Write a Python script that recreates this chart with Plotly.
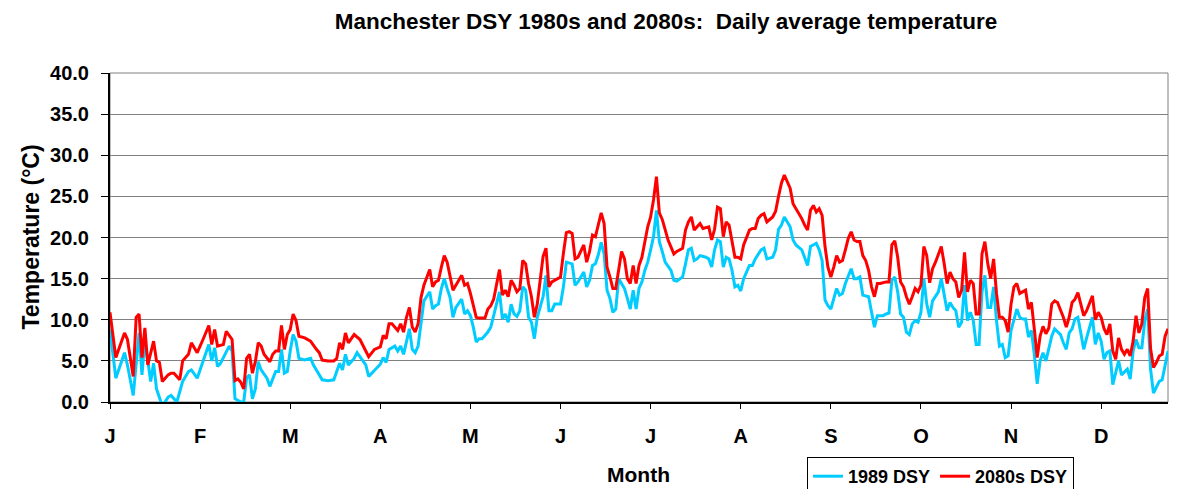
import plotly.graph_objects as go

# ---- data (day of year index, daily average temperature in °C) ----
month_labels = ["J", "F", "M", "A", "M", "J", "J", "A", "S", "O", "N", "D"]
month_tick_days = [0, 31, 62, 93, 124, 155, 186, 217, 248, 279, 310, 341]

days_1989 = [0, 2, 5, 6, 8, 10, 11, 12, 14, 15, 16, 18, 20, 21, 23, 25, 27, 28, 30, 32, 34, 35, 36, 37, 38, 41, 42, 43, 44, 45, 46, 47, 48, 49, 50, 51, 52, 54, 55, 56, 57, 58, 59, 60, 61, 62, 63, 64, 65, 67, 69, 70, 72, 73, 75, 77, 78, 79, 80, 81, 82, 84, 85, 88, 89, 91, 93, 94, 95, 96, 98, 99, 100, 101, 102, 103, 104, 105, 106, 107, 108, 110, 111, 112, 113, 114, 115, 116, 117, 118, 119, 121, 122, 123, 124, 125, 126, 127, 128, 130, 131, 132, 134, 135, 136, 137, 138, 139, 140, 141, 142, 143, 144, 145, 146, 147, 149, 150, 151, 152, 153, 155, 156, 157, 159, 160, 161, 163, 164, 165, 166, 167, 168, 169, 170, 171, 172, 173, 174, 175, 177, 178, 179, 180, 181, 182, 183, 184, 185, 186, 187, 188, 189, 190, 191, 193, 194, 195, 197, 198, 199, 200, 201, 202, 203, 205, 206, 207, 208, 209, 210, 211, 212, 213, 214, 215, 216, 217, 218, 220, 221, 222, 224, 225, 226, 228, 229, 230, 231, 232, 233, 234, 235, 236, 238, 239, 240, 241, 243, 244, 245, 246, 247, 248, 249, 250, 251, 252, 253, 255, 256, 257, 258, 259, 261, 262, 263, 264, 266, 267, 268, 269, 270, 271, 272, 273, 274, 275, 276, 277, 278, 279, 280, 281, 282, 283, 285, 286, 287, 288, 289, 290, 291, 292, 293, 294, 295, 296, 297, 298, 299, 300, 301, 302, 303, 304, 305, 306, 307, 308, 309, 310, 312, 313, 314, 315, 316, 317, 318, 319, 320, 321, 322, 323, 324, 325, 327, 328, 329, 330, 331, 332, 333, 334, 335, 336, 337, 338, 339, 340, 341, 342, 343, 344, 345, 346, 347, 348, 349, 350, 351, 352, 353, 354, 355, 356, 357, 358, 359, 360, 361, 362, 363, 364]
temp_1989 = [8.8, 2.9, 6.0, 4.5, 0.8, 8.4, 3.3, 7.6, 2.5, 4.7, 1.6, -0.5, 0.6, 0.8, 0.0, 2.5, 3.7, 3.9, 2.9, 5.0, 7.0, 5.0, 6.6, 4.3, 4.7, 6.8, 6.2, 0.4, 0.2, 0.0, 0.0, 2.9, 3.3, 0.4, 1.6, 4.9, 3.9, 2.9, 1.9, 2.9, 3.7, 3.7, 6.4, 3.5, 3.7, 6.2, 8.2, 7.4, 5.3, 5.1, 5.3, 4.5, 3.3, 2.7, 2.6, 2.7, 3.7, 4.7, 3.9, 5.8, 4.5, 5.3, 6.0, 4.5, 3.1, 3.8, 4.6, 5.4, 4.8, 6.4, 6.8, 6.2, 6.8, 5.8, 7.5, 8.9, 6.4, 6.0, 6.8, 9.9, 12.3, 13.4, 11.3, 11.7, 11.9, 13.8, 15.0, 13.8, 12.7, 10.3, 11.5, 12.5, 10.7, 11.1, 10.5, 9.1, 7.3, 7.7, 7.7, 8.5, 9.1, 10.5, 13.4, 10.1, 10.7, 9.7, 11.9, 10.7, 10.4, 11.1, 14.0, 13.6, 10.3, 9.7, 7.7, 10.3, 12.8, 15.4, 11.1, 11.1, 11.9, 11.9, 14.0, 17.0, 16.8, 14.2, 14.6, 15.8, 14.0, 14.8, 16.6, 16.8, 17.9, 19.4, 18.0, 13.6, 12.6, 10.9, 11.3, 15.0, 13.8, 12.6, 11.3, 13.6, 11.3, 13.8, 14.6, 16.0, 17.0, 18.5, 20.1, 23.3, 19.5, 18.3, 17.0, 16.0, 14.8, 14.7, 15.2, 16.8, 18.5, 18.7, 17.2, 17.4, 17.8, 17.6, 17.4, 16.4, 18.5, 19.7, 19.5, 16.4, 17.6, 17.4, 16.0, 14.0, 14.2, 13.5, 15.0, 16.6, 16.6, 17.4, 18.5, 18.7, 17.4, 17.6, 18.5, 21.0, 21.5, 22.5, 21.9, 21.3, 19.7, 19.1, 18.5, 17.6, 16.6, 18.9, 19.3, 18.5, 17.2, 12.4, 11.7, 11.3, 12.4, 13.8, 13.0, 13.2, 14.4, 16.2, 15.0, 15.0, 15.2, 13.0, 12.8, 10.7, 9.1, 10.5, 10.5, 10.7, 10.8, 14.8, 15.2, 13.4, 10.7, 10.3, 8.5, 8.2, 9.5, 9.9, 9.7, 10.9, 15.0, 11.9, 10.3, 12.3, 13.4, 15.0, 13.0, 11.1, 12.1, 11.5, 11.1, 9.1, 9.7, 14.2, 9.9, 10.9, 9.9, 7.0, 7.0, 13.4, 15.4, 11.5, 11.5, 14.0, 9.9, 6.8, 7.0, 5.4, 5.6, 8.7, 11.3, 10.3, 10.1, 10.1, 7.9, 8.7, 5.8, 2.2, 5.0, 6.0, 5.0, 6.5, 8.0, 8.9, 8.2, 7.2, 6.4, 8.4, 8.9, 10.1, 10.3, 8.4, 6.4, 7.8, 9.1, 10.3, 7.0, 8.4, 7.4, 5.2, 6.0, 6.2, 2.1, 3.6, 5.0, 3.3, 3.6, 4.0, 2.8, 6.2, 7.6, 6.6, 6.6, 9.9, 11.3, 4.0, 1.1, 1.9, 2.5, 2.7, 4.6, 6.2]

days_2080s = [0, 2, 5, 6, 8, 9, 10, 11, 12, 13, 15, 16, 17, 18, 20, 21, 22, 24, 25, 27, 28, 30, 32, 34, 35, 36, 37, 39, 40, 42, 43, 44, 45, 46, 47, 48, 49, 50, 51, 52, 53, 55, 56, 57, 58, 59, 60, 61, 62, 63, 64, 65, 67, 69, 71, 72, 73, 75, 77, 78, 79, 80, 81, 82, 84, 86, 88, 89, 91, 93, 94, 95, 96, 97, 99, 100, 101, 102, 103, 104, 105, 106, 107, 108, 110, 111, 112, 113, 114, 115, 116, 117, 118, 119, 121, 122, 123, 124, 125, 126, 127, 129, 130, 131, 132, 133, 134, 135, 136, 137, 138, 139, 140, 141, 142, 143, 144, 145, 146, 147, 148, 149, 150, 151, 152, 154, 155, 156, 157, 158, 159, 160, 161, 163, 164, 165, 166, 167, 168, 169, 170, 171, 172, 173, 174, 175, 176, 177, 178, 179, 180, 181, 182, 183, 184, 185, 186, 187, 188, 189, 190, 191, 192, 194, 195, 197, 198, 199, 200, 201, 202, 203, 204, 206, 207, 208, 209, 210, 211, 212, 213, 214, 215, 216, 217, 218, 220, 221, 222, 223, 224, 225, 226, 228, 229, 230, 231, 232, 233, 234, 235, 236, 237, 238, 239, 240, 241, 242, 243, 244, 245, 246, 247, 248, 249, 250, 251, 252, 253, 254, 255, 256, 257, 258, 259, 260, 261, 262, 263, 264, 265, 267, 268, 269, 270, 271, 272, 273, 274, 275, 276, 277, 278, 279, 280, 281, 282, 283, 284, 285, 286, 287, 288, 289, 290, 291, 292, 293, 294, 295, 296, 297, 298, 299, 300, 301, 302, 303, 304, 305, 306, 307, 308, 309, 310, 311, 312, 313, 314, 315, 316, 317, 318, 319, 320, 321, 322, 323, 324, 325, 326, 327, 328, 329, 330, 331, 332, 333, 334, 335, 336, 337, 338, 339, 340, 341, 342, 343, 344, 345, 346, 347, 348, 349, 350, 351, 352, 353, 354, 355, 356, 357, 358, 359, 360, 361, 362, 363, 364]
temp_2080s = [10.9, 5.4, 8.4, 7.6, 3.1, 10.3, 10.7, 5.4, 9.0, 4.5, 7.4, 5.0, 4.8, 2.5, 3.3, 3.5, 3.5, 2.7, 5.0, 5.8, 7.2, 6.0, 7.6, 9.3, 7.0, 8.8, 6.8, 7.0, 8.6, 7.6, 2.6, 2.8, 2.4, 1.6, 5.3, 5.8, 3.5, 4.9, 7.2, 6.8, 5.8, 4.9, 5.8, 6.2, 6.2, 9.3, 6.4, 8.2, 8.8, 10.7, 9.9, 8.0, 7.8, 7.4, 6.4, 6.0, 5.1, 5.0, 5.0, 5.3, 7.2, 6.4, 8.4, 7.2, 8.2, 7.6, 6.2, 5.5, 6.4, 6.7, 8.1, 7.7, 9.5, 9.5, 8.7, 9.5, 8.5, 10.3, 11.5, 9.1, 8.5, 9.5, 12.7, 14.2, 16.1, 14.0, 14.6, 14.8, 16.4, 17.8, 17.0, 15.4, 13.6, 14.2, 15.4, 14.2, 14.4, 13.2, 11.9, 10.3, 10.2, 10.2, 11.3, 11.7, 12.5, 14.4, 16.1, 13.0, 13.6, 12.8, 14.8, 14.2, 13.4, 13.8, 17.2, 16.8, 14.4, 12.8, 10.3, 11.9, 15.2, 17.7, 18.7, 14.0, 14.6, 15.0, 15.2, 18.1, 20.6, 20.7, 20.5, 17.4, 17.6, 19.1, 17.0, 18.3, 20.3, 20.1, 21.5, 23.0, 21.7, 16.4, 15.2, 13.8, 13.8, 15.8, 18.3, 17.4, 15.0, 14.4, 16.6, 14.4, 16.6, 17.6, 19.5, 21.3, 22.5, 24.6, 27.4, 23.0, 22.2, 20.9, 19.7, 18.0, 18.3, 18.7, 20.9, 21.9, 22.5, 20.9, 21.3, 21.7, 21.1, 21.3, 19.7, 21.0, 23.7, 23.5, 20.1, 21.9, 21.5, 19.7, 17.6, 17.6, 17.4, 19.1, 20.9, 21.1, 21.1, 22.3, 22.7, 22.9, 21.9, 22.5, 23.2, 25.0, 26.6, 27.6, 26.8, 26.0, 24.1, 23.5, 22.9, 22.3, 21.5, 20.9, 23.3, 23.9, 23.1, 23.5, 22.7, 18.9, 16.4, 15.2, 16.4, 17.8, 17.0, 17.2, 18.5, 19.9, 20.7, 19.7, 19.5, 19.5, 17.8, 17.2, 16.0, 14.0, 12.8, 14.4, 14.4, 14.6, 14.6, 19.1, 19.6, 17.6, 14.6, 14.0, 12.8, 11.9, 12.8, 13.8, 13.4, 14.2, 18.9, 17.8, 14.5, 16.2, 17.0, 18.0, 18.9, 16.8, 14.4, 15.8, 15.0, 14.6, 12.7, 13.6, 18.2, 13.4, 14.8, 14.4, 10.7, 10.7, 18.0, 19.5, 16.8, 15.0, 17.4, 13.2, 10.3, 10.3, 9.9, 8.5, 11.9, 14.0, 14.4, 13.2, 13.4, 13.6, 11.3, 12.1, 8.9, 5.4, 8.0, 9.2, 8.3, 9.0, 11.9, 12.3, 12.1, 11.3, 10.3, 9.1, 10.3, 12.1, 12.5, 13.3, 11.9, 10.5, 11.1, 11.9, 12.9, 10.0, 10.9, 10.3, 8.9, 8.2, 9.5, 6.2, 5.2, 7.8, 6.4, 5.8, 6.4, 5.6, 7.4, 10.5, 8.4, 9.5, 12.7, 13.8, 6.5, 4.2, 4.8, 5.6, 5.8, 8.0, 8.9]

series_names = ["1989 DSY", "2080s DSY"]
series_colors = ["#00CCFF", "#FF0000"]

FONT = "Liberation Sans, Arial, sans-serif"
W, H = 1184, 489
OFF = 8  # default page body margin shifts the figure by 8px

fig = go.Figure()
fig.add_trace(go.Scatter(x=days_1989, y=temp_1989, mode="lines", name=f"<b>{series_names[0]}</b>",
                         line=dict(color=series_colors[0], width=3)))
fig.add_trace(go.Scatter(x=days_2080s, y=temp_2080s, mode="lines", name=f"<b>{series_names[1]}</b>",
                         line=dict(color=series_colors[1], width=3)))

fig.update_layout(
    width=W, height=H,
    margin=dict(l=110 - OFF, r=W - (1168 - OFF), t=73 - OFF, b=H - (402 - OFF)),
    paper_bgcolor="white", plot_bgcolor="white",
    font=dict(family=FONT, color="black"),
    title=dict(text="<b>Manchester DSY 1980s and 2080s:  Daily average temperature</b>",
               x=(666 - 110) / 1058, xref="paper", xanchor="center",
               y=1 - (21 - OFF) / H, yref="container", yanchor="middle",
               font=dict(size=22.5, family=FONT, color="black")),
    showlegend=True,
    legend=dict(orientation="h", x=(807 - 110) / 1058, xref="paper",
                y=1 - (457 - OFF) / H, yref="container",
                xanchor="left", yanchor="top",
                bordercolor="black", borderwidth=1, bgcolor="white",
                font=dict(size=18, family=FONT, color="black"),
                itemwidth=30, tracegroupgap=0),
)

fig.update_xaxes(
    range=[0, 364], tickmode="array", tickvals=month_tick_days, ticktext=[f"<b>{m}</b>" for m in month_labels],
    showgrid=False, zeroline=False, showline=True, linecolor="black", linewidth=2,
    ticks="outside", ticklen=5, tickcolor="black", tickwidth=1, automargin=False,
    tickfont=dict(size=20, family=FONT, color="black"), ticklabelstandoff=10,
)
fig.update_yaxes(
    range=[0, 40], tick0=0, dtick=5, tickformat=".1f",
    showgrid=True, gridcolor="#808080", gridwidth=1, zeroline=False,
    showline=True, linecolor="black", linewidth=2, automargin=False,
    ticks="outside", ticklen=7, tickcolor="black", tickwidth=1,
    tickfont=dict(size=20, family=FONT, color="black"), ticklabelstandoff=8,
    tickprefix="<b>", ticksuffix="</b>",
)

# plot area border on top/right
fig.add_shape(type="rect", xref="paper", yref="paper", x0=0, x1=1, y0=0, y1=1,
              line=dict(color="#808080", width=1), layer="below")

fig.add_annotation(text="<b>Temperature (°C)</b>", xref="paper", yref="paper",
                   x=(30 - 110) / 1058, y=0.5, textangle=-90, showarrow=False,
                   xanchor="center", yanchor="middle",
                   font=dict(size=23, family=FONT, color="black"))
fig.add_annotation(text="<b>Month</b>", xref="paper", yref="paper",
                   x=(638 - 110) / 1058, y=(402 - 475) / 329, showarrow=False,
                   xanchor="center", yanchor="middle",
                   font=dict(size=21, family=FONT, color="black"))

fig.write_html("out.html")
